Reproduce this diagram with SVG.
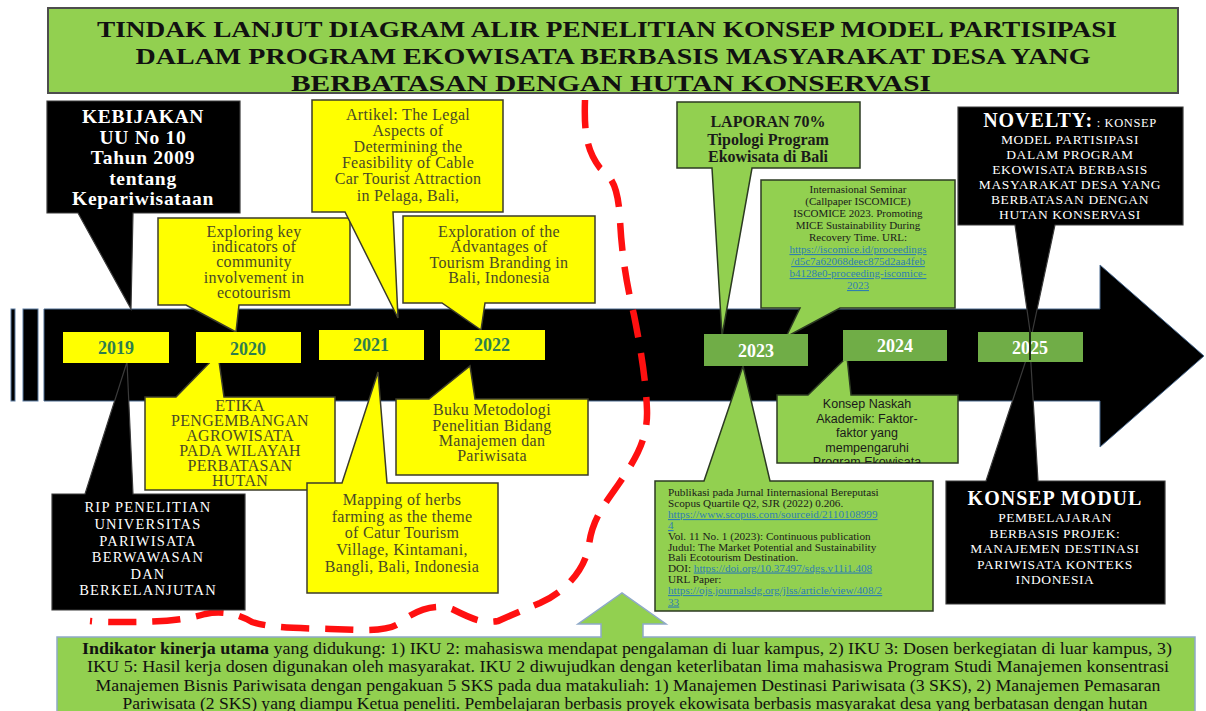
<svg xmlns="http://www.w3.org/2000/svg" width="1206" height="711" viewBox="0 0 1206 711">
<defs>
<style>
.serif{font-family:"Liberation Serif","Times New Roman",serif}
.sans{font-family:"Liberation Sans",Arial,sans-serif}
.blk{fill:#000;stroke:#3a3a3a;stroke-width:1.2}
.yel{fill:#ffff00;stroke:#3c3c2a;stroke-width:1.5}
.grn{fill:#92d050;stroke:#2c3a22;stroke-width:1.5}
.yr{fill:#ffff00}
.yrg{fill:#70ad47}
.yt{font-family:"Liberation Serif",serif;font-weight:bold;font-size:18px;fill:#2e7d4f;text-anchor:middle}
.yw{font-family:"Liberation Serif",serif;font-weight:bold;font-size:18px;fill:#fff;text-anchor:middle}
.ol{font-family:"Liberation Serif",serif;font-size:16px;fill:#4a4a26;text-anchor:middle;letter-spacing:0.3px}
.wt{font-family:"Liberation Serif",serif;fill:#fff;text-anchor:middle}
.dk{font-family:"Liberation Serif",serif;fill:#1a1a1a}
.lk{fill:#2f7fb0;text-decoration:underline}
</style>
<clipPath id="naskahClip"><rect x="777" y="395" width="181" height="68"/></clipPath>
<clipPath id="pubClip"><rect x="655" y="481" width="278" height="130"/></clipPath>
</defs>
<rect width="1206" height="711" fill="#fff"/>

<g id="title">
<rect x="48" y="8" width="1130" height="85" fill="#92d050" stroke="#4d4d4d" stroke-width="2"/>
<g class="serif" font-weight="bold" font-size="24" text-anchor="middle" fill="#111">
<text x="607" y="37" textLength="1020" lengthAdjust="spacingAndGlyphs">TINDAK LANJUT DIAGRAM ALIR PENELITIAN KONSEP MODEL PARTISIPASI</text>
<text x="613" y="64" textLength="955" lengthAdjust="spacingAndGlyphs">DALAM PROGRAM EKOWISATA BERBASIS MASYARAKAT DESA YANG</text>
<text x="611" y="91" textLength="640" lengthAdjust="spacingAndGlyphs">BERBATASAN DENGAN HUTAN KONSERVASI</text>
</g>
</g>

<g id="timeline">
<rect x="11" y="309" width="4" height="92" fill="#000" stroke="#5a7aa0" stroke-width="1"/>
<rect x="23" y="309" width="15" height="92" fill="#000" stroke="#5a7aa0" stroke-width="1"/>
<path d="M44 309 H1100 V265 L1204 356 L1100 447 V401 H44 Z" fill="#000" stroke="#4a6a90" stroke-width="1"/>
</g>

<g id="connectors">
<path d="M585 100 C584 130 586 150 600 168 C612 178 618 185 620 220 C622 260 628 290 634 315 C640 345 646 380 647 410 C648 440 635 460 618 485 C604 505 592 520 589 545 C585 570 565 592 540 603 C525 609 512 615 498 621 C482 624 470 618 452 609 C435 603 415 610 398 624 C385 632 360 630 330 629 C300 628 270 628 252 622 C238 614 222 610 205 614 C185 620 160 622 130 622 C115 622 100 622 90 621" fill="none" stroke="#ff1010" stroke-width="6.5" stroke-dasharray="28 16"/>
</g>

<g id="kebijakan">
<path class="blk" d="M47 101 H240 V213 H133 L131 309 L78 213 H47 Z"/>
<g class="wt" font-weight="bold" font-size="19.5" letter-spacing="0.7">
<text x="143" y="123">KEBIJAKAN</text>
<text x="143" y="143.5">UU No 10</text>
<text x="143" y="164">Tahun 2009</text>
<text x="143" y="184.5">tentang</text>
<text x="143" y="205">Kepariwisataan</text>
</g>
</g>

<g id="exploring">
<path class="yel" d="M158 218 H350 V305 H239 L236 332 L186 305 H158 Z"/>
<g class="ol">
<text x="254" y="237">Exploring key</text>
<text x="254" y="252">indicators of</text>
<text x="254" y="267">community</text>
<text x="254" y="283">involvement in</text>
<text x="254" y="298">ecotourism</text>
</g>
</g>

<g id="artikel">
<path class="yel" d="M312 100 H503 V212 H393 L398 318 L345 212 H312 Z"/>
<g class="ol">
<text x="408" y="120">Artikel: The Legal</text>
<text x="408" y="136">Aspects of</text>
<text x="408" y="152">Determining the</text>
<text x="408" y="168">Feasibility of Cable</text>
<text x="408" y="184">Car Tourist Attraction</text>
<text x="408" y="201">in Pelaga, Bali,</text>
</g>
</g>

<g id="exploration">
<path class="yel" d="M403 216 H595 V303 H485 L481 330 L442 303 H403 Z"/>
<g class="ol">
<text x="499" y="237">Exploration of the</text>
<text x="499" y="252">Advantages of</text>
<text x="499" y="268">Tourism Branding in</text>
<text x="499" y="283">Bali, Indonesia</text>
</g>
</g>

<g id="laporan">
<path class="grn" d="M677 102 H860 V168 H752 L722 336 L712 168 H677 Z"/>
<g class="dk" font-weight="bold" font-size="16" text-anchor="middle">
<text x="768" y="127">LAPORAN 70%</text>
<text x="768" y="145">Tipologi Program</text>
<text x="768" y="162">Ekowisata di Bali</text>
</g>
</g>

<g id="seminar">
<path class="grn" d="M761 180 H955 V308 H840 L786 337 L800 308 H761 Z"/>
<g class="dk" font-size="11" text-anchor="middle">
<text x="858" y="193">Internasional Seminar</text>
<text x="858" y="205">(Callpaper ISCOMICE)</text>
<text x="858" y="217">ISCOMICE 2023. Promoting</text>
<text x="858" y="229">MICE Sustainability During</text>
<text x="858" y="241">Recovery Time. URL:</text>
<text x="858" y="253" class="lk">https://iscomice.id/proceedings</text>
<text x="858" y="265" class="lk">/d5c7a62068deec875d2aa4feb</text>
<text x="858" y="277" class="lk">b4128e0-proceeding-iscomice-</text>
<text x="858" y="289" class="lk">2023</text>
</g>
</g>

<g id="novelty">
<path class="blk" d="M958 107 H1183 V225 H1055 L1031 338 L1015 225 H958 Z"/>
<g class="wt" font-size="13.5" letter-spacing="0.6">
<text x="1070" y="127"><tspan font-weight="bold" font-size="20" letter-spacing="1">NOVELTY:</tspan><tspan font-size="12.5"> : KONSEP</tspan></text>
<text x="1070" y="143.5">MODEL PARTISIPASI</text>
<text x="1070" y="158.5">DALAM PROGRAM</text>
<text x="1070" y="173.5">EKOWISATA BERBASIS</text>
<text x="1070" y="188.5">MASYARAKAT DESA YANG</text>
<text x="1070" y="203.5">BERBATASAN DENGAN</text>
<text x="1070" y="218.5">HUTAN KONSERVASI</text>
</g>
</g>

<g id="rip">
<path class="blk" d="M52 494 H85 L127 362 L133 494 H245 V610 H52 Z"/>
<g class="wt" font-size="14.5" letter-spacing="1.2">
<text x="148" y="512">RIP PENELITIAN</text>
<text x="148" y="529">UNIVERSITAS</text>
<text x="148" y="545.5">PARIWISATA</text>
<text x="148" y="562">BERWAWASAN</text>
<text x="148" y="578.5">DAN</text>
<text x="148" y="595">BERKELANJUTAN</text>
</g>
</g>

<g id="etika">
<path class="yel" d="M145 397 H176 L218 354 L224 397 H335 V490 H145 Z"/>
<g class="ol" font-size="13" letter-spacing="1.7">
<text x="240" y="411">ETIKA</text>
<text x="240" y="426">PENGEMBANGAN</text>
<text x="240" y="441">AGROWISATA</text>
<text x="240" y="456">PADA WILAYAH</text>
<text x="240" y="471">PERBATASAN</text>
<text x="240" y="486">HUTAN</text>
</g>
</g>

<g id="mapping">
<path class="yel" d="M307 483 H342 L378 372 L387 483 H498 V593 H307 Z"/>
<g class="ol">
<text x="402" y="505">Mapping of herbs</text>
<text x="402" y="522">farming as the theme</text>
<text x="402" y="538">of Catur Tourism</text>
<text x="402" y="555">Village, Kintamani,</text>
<text x="402" y="572">Bangli, Bali, Indonesia</text>
</g>
</g>

<g id="buku">
<path class="yel" d="M396 399 H429 L470 366 L475 399 H588 V475 H396 Z"/>
<g class="ol">
<text x="492" y="415">Buku Metodologi</text>
<text x="492" y="431">Penelitian Bidang</text>
<text x="492" y="446">Manajemen dan</text>
<text x="492" y="461">Pariwisata</text>
</g>
</g>

<g id="naskah">
<path class="grn" d="M777 395 H808 L847 357 L851 395 H958 V463 H777 Z"/>
<g class="sans" font-size="12.5" fill="#1a1a1a" text-anchor="middle" clip-path="url(#naskahClip)">
<text x="867" y="408">Konsep Naskah</text>
<text x="867" y="422.5">Akademik: Faktor-</text>
<text x="867" y="437">faktor yang</text>
<text x="867" y="451.5">mempengaruhi</text>
<text x="867" y="466">Program Ekowisata</text>
</g>
</g>

<g id="publikasi">
<path class="grn" d="M655 481 H704 L743 366 L770 481 H933 V611 H655 Z"/>
<g class="dk" font-size="11.2" clip-path="url(#pubClip)">
<text x="668" y="496">Publikasi pada Jurnal Iinternasional Bereputasi</text>
<text x="668" y="507">Scopus Quartile Q2, SJR (2022) 0.206.</text>
<text x="668" y="518" class="lk">https://www.scopus.com/sourceid/2110108999</text>
<text x="668" y="529" class="lk">4</text>
<text x="668" y="540">Vol. 11 No. 1 (2023): Continuous publication</text>
<text x="668" y="550.5">Judul: The Market Potential and Sustainability</text>
<text x="668" y="561">Bali Ecotourism Destination.</text>
<text x="668" y="571.5">DOI: <tspan class="lk">https://doi.org/10.37497/sdgs.v11i1.408</tspan></text>
<text x="668" y="582.5">URL Paper:</text>
<text x="668" y="594" class="lk">https://ojs.journalsdg.org/jlss/article/view/408/2</text>
<text x="668" y="605.5" class="lk">33</text>
</g>
</g>

<g id="modul">
<path class="blk" d="M946 481 H986 L1030 348 L1038 481 H1165 V604 H946 Z"/>
<g class="wt" font-size="13.5" letter-spacing="0.6">
<text x="1055" y="505" font-weight="bold" font-size="20" letter-spacing="1">KONSEP MODUL</text>
<text x="1055" y="522">PEMBELAJARAN</text>
<text x="1055" y="537.5">BERBASIS PROJEK:</text>
<text x="1055" y="553">MANAJEMEN DESTINASI</text>
<text x="1055" y="568.5">PARIWISATA KONTEKS</text>
<text x="1055" y="584">INDONESIA</text>
</g>
</g>

<g id="years">
<rect class="yr" x="63" y="332" width="106" height="31"/>
<text class="yt" x="116" y="354">2019</text>
<rect class="yr" x="196" y="332" width="105" height="31"/>
<text class="yt" x="248" y="355">2020</text>
<rect class="yr" x="319" y="330" width="105" height="30"/>
<text class="yt" x="371" y="351">2021</text>
<rect class="yr" x="440" y="330" width="105" height="30"/>
<text class="yt" x="492" y="351">2022</text>
<rect class="yrg" x="704" y="334" width="104" height="32"/>
<text class="yw" x="756" y="357">2023</text>
<rect class="yrg" x="843" y="330" width="104" height="31"/>
<text class="yw" x="895" y="352">2024</text>
<rect class="yrg" x="978" y="332" width="105" height="30"/>
<text class="yw" x="1030" y="354">2025</text>
<line x1="1030" y1="332" x2="1030" y2="360" stroke="#000" stroke-width="1.5"/>
</g>

<g id="iku">
<rect x="57" y="637" width="1138" height="80" fill="#92d050" stroke="#8ea9c8" stroke-width="1.5"/>
<path d="M601 638 V624 H578 L622 593 L666 624 H643 V638" fill="#92d050" stroke="#8ea9c8" stroke-width="1.5"/>
<g class="serif" font-size="16.5" fill="#111" text-anchor="middle">
<text x="627" y="654" textLength="1090" lengthAdjust="spacingAndGlyphs"><tspan font-weight="bold">Indikator kinerja utama</tspan> yang didukung: 1) IKU 2: mahasiswa mendapat pengalaman di luar kampus, 2) IKU 3: Dosen berkegiatan di luar kampus, 3)</text>
<text x="628" y="672" textLength="1082" lengthAdjust="spacingAndGlyphs">IKU 5: Hasil kerja dosen digunakan oleh masyarakat. IKU 2 diwujudkan dengan keterlibatan lima mahasiswa Program Studi Manajemen konsentrasi</text>
<text x="628" y="691" textLength="1065" lengthAdjust="spacingAndGlyphs">Manajemen Bisnis Pariwisata dengan pengakuan 5 SKS pada dua matakuliah: 1) Manajemen Destinasi Pariwisata (3 SKS), 2) Manajemen Pemasaran</text>
<text x="635" y="709" textLength="1025" lengthAdjust="spacingAndGlyphs">Pariwisata (2 SKS) yang diampu Ketua peneliti. Pembelajaran berbasis proyek ekowisata berbasis masyarakat desa yang berbatasan dengan hutan</text>
</g>
</g>
</svg>
